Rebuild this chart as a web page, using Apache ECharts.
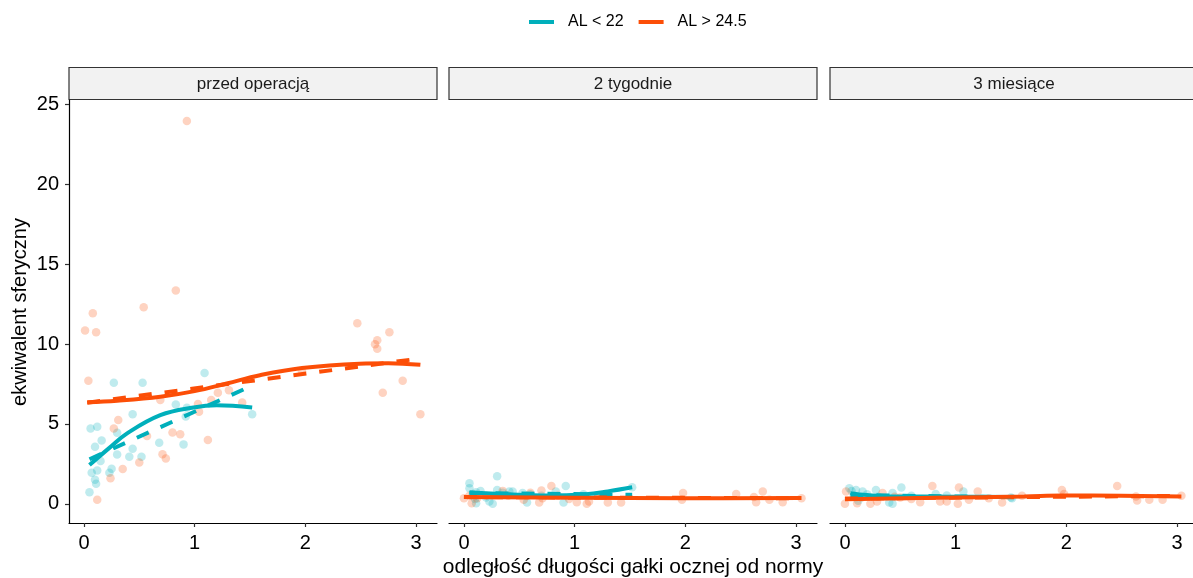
<!DOCTYPE html>
<html>
<head>
<meta charset="utf-8">
<script src="https://cdn.jsdelivr.net/npm/echarts@6/dist/echarts.min.js"></script>
<style>
  html, body { margin: 0; padding: 0; background: #fff; }
  #chart { width: 1193px; height: 578px; }
</style>
</head>
<body>
<div id="chart"></div>
<script>
// panels (facets) and groups
const panels = ['przed operacją', '2 tygodnie', '3 miesiące']
const groups = ['AL < 22', 'AL > 24.5']
const colors = ['#00AFBB', '#FC4E07']
const xTicks = [0, 1, 2, 3]
const yTicks = [0, 5, 10, 15, 20, 25]

// przed operacją
const preShortX = [0.27, 0.53, 1.09, 0.83, 0.93, 0.92, 1.52, 0.44, 0.06, 0.12, 0.10, 0.16, 0.30, 0.44, 0.30, 0.41, 0.52, 0.68, 0.90, 0.15, 0.07, 0.12, 0.10, 0.11, 0.23, 0.25, 0.05]
const preShortY = [7.57, 7.57, 8.19, 6.22, 6.01, 5.47, 5.60, 5.60, 4.72, 4.82, 3.57, 3.97, 4.45, 3.45, 3.08, 2.95, 2.95, 3.82, 3.72, 2.68, 1.95, 2.08, 1.50, 1.25, 1.95, 2.20, 0.73]
const preLongX = [0.01, 0.08, 0.11, 0.54, 0.04, 2.47, 2.63, 2.65, 2.65, 2.76, 2.88, 2.70, 3.04, 1.97, 0.69, 1.21, 1.31, 1.15, 1.43, 1.03, 1.04, 0.31, 0.27, 0.57, 0.80, 0.87, 1.12, 0.71, 0.74, 0.50, 0.35, 0.24, 0.12, 0.93, 0.83]
const preLongY = [10.85, 11.93, 10.73, 12.30, 7.70, 11.30, 9.98, 10.23, 9.71, 10.73, 7.70, 6.95, 5.60, 8.30, 6.49, 6.95, 7.10, 6.49, 6.34, 6.24, 5.76, 5.24, 4.72, 4.24, 4.47, 4.35, 3.99, 3.10, 2.83, 2.58, 2.18, 1.60, 0.25, 23.95, 13.35]

// 2 tygodnie
const w2ShortX = [0.05, 0.05, 0.30, 0.11, 0.30, 0.26, 0.11, 0.23, 0.41, 0.44, 0.53, 0.57, 0.83, 0.92, 0.90, 1.08, 1.52, 0.08, 0.15, 0.20, 0.35, 0.60, 0.70, 1.20, 0.10]
const w2ShortY = [1.29, 0.98, 1.73, 0.73, 0.87, 0.00, 0.04, 0.15, 0.77, 0.77, 0.67, 0.08, 0.77, 1.12, 0.08, 0.60, 1.04, 0.60, 0.80, 0.40, 0.70, 0.60, 0.50, 0.50, 0.30]
const w2LongX = [0.00, 0.07, 0.12, 0.35, 0.54, 0.70, 0.68, 0.79, 1.02, 1.11, 1.13, 1.30, 1.42, 0.71, 1.98, 1.97, 2.46, 2.62, 2.64, 2.70, 2.76, 2.88, 3.05, 0.05, 0.20, 0.40, 0.60, 0.85, 0.95, 1.25]
const w2LongY = [0.35, 0.04, 0.35, 0.81, 0.25, 0.83, 0.08, 1.12, 0.10, 0.00, 0.15, 0.08, 0.08, 0.35, 0.67, 0.25, 0.62, 0.42, 0.10, 0.77, 0.25, 0.10, 0.35, 0.50, 0.50, 0.50, 0.70, 0.50, 0.30, 0.50]

// 3 miesiące
const m3ShortX = [0.04, 0.06, 0.10, 0.16, 0.28, 0.51, 0.43, 0.40, 0.43, 0.82, 0.92, 1.07, 1.51, 0.12, 0.08, 0.20, 0.30, 0.60, 1.50]
const m3ShortY = [0.98, 0.80, 0.87, 0.77, 0.87, 1.02, 0.67, 0.08, 0.00, 0.62, 0.52, 0.77, 0.35, 0.20, 0.50, 0.60, 0.45, 0.50, 0.40]
const m3LongX = [0.00, 0.01, 0.11, 0.23, 0.29, 0.34, 0.50, 0.68, 0.79, 0.86, 0.92, 1.03, 1.02, 1.12, 1.20, 1.30, 1.42, 1.96, 1.98, 2.46, 2.63, 2.64, 2.75, 2.87, 3.04, 0.15, 0.45, 0.60, 1.60]
const m3LongY = [0.00, 0.77, 0.04, 0.00, 0.15, 0.67, 0.40, 0.10, 1.12, 0.15, 0.15, 1.02, 0.00, 0.25, 0.77, 0.35, 0.08, 0.87, 0.62, 1.12, 0.46, 0.21, 0.25, 0.25, 0.50, 0.40, 0.45, 0.30, 0.50]

// smoothed (loess) curves
const preShortLoess = [[0.05, 2.43], [0.23, 3.5], [0.39, 4.41], [0.69, 5.55], [0.99, 6.03], [1.2, 6.17], [1.52, 6.03]]
const preLongLoess = [[0.03, 6.35], [0.3, 6.45], [0.69, 6.7], [1.0, 7.05], [1.29, 7.53], [1.59, 8.05], [1.97, 8.5], [2.49, 8.77], [2.75, 8.8], [3.04, 8.7]]
const w2ShortLoess = [[0.05, 0.73], [0.4, 0.6], [0.75, 0.52], [1.1, 0.6], [1.3, 0.78], [1.52, 1.04]]
const w2LongLoess = [[0.0, 0.42], [1.0, 0.38], [2.0, 0.35], [3.05, 0.36]]
const m3ShortLoess = [[0.05, 0.67], [0.2, 0.55], [0.41, 0.46], [1.0, 0.45], [1.5, 0.43]]
const m3LongLoess = [[0.0, 0.29], [0.8, 0.38], [1.62, 0.46], [1.96, 0.52], [2.5, 0.5], [3.04, 0.46]]

// linear fits (end points)
const preShortLm = [[0.05, 2.79], [1.52, 7.4]]
const preLongLm = [[0.03, 6.33], [3.04, 9.1]]
const w2ShortLm = [[0.05, 0.68], [1.52, 0.57]]
const w2LongLm = [[0.0, 0.42], [3.05, 0.35]]
const m3ShortLm = [[0.05, 0.55], [1.5, 0.42]]
const m3LongLm = [[0.0, 0.33], [3.04, 0.5]]

const points = [
    [[preShortX, preShortY], [preLongX, preLongY]],
    [[w2ShortX, w2ShortY], [w2LongX, w2LongY]],
    [[m3ShortX, m3ShortY], [m3LongX, m3LongY]]
]
const loess = [[preShortLoess, preLongLoess], [w2ShortLoess, w2LongLoess], [m3ShortLoess, m3LongLoess]]
const lm = [[preShortLm, preLongLm], [w2ShortLm, w2LongLm], [m3ShortLm, m3LongLm]]

const font = '"Liberation Sans", Arial, sans-serif'
const panelLeft = [69, 449, 830]
// last panel is cut off by the right edge of the picture
const panelW = [368, 368, 363]
const xMin = -0.135
const xPerPx = 3.325 / 368
const panelTop = 100
const panelH = 423

let zip = (xs, ys) => xs.map((x, i) => [x, ys[i]])

let grids = [], xAxes = [], yAxes = [], series = [], graphics = []

panels.forEach((name, p) => {
    grids.push({ left: panelLeft[p], top: panelTop, width: panelW[p], height: panelH })
    xAxes.push({
        type: 'value', gridIndex: p, min: xMin, max: xMin + panelW[p] * xPerPx,
        axisLine: { show: true, onZero: false, lineStyle: { color: '#000', width: 1.2 } },
        axisTick: { show: true, length: 4, customValues: xTicks, lineStyle: { color: '#333', width: 1.2 } },
        axisLabel: { customValues: xTicks, color: '#000', fontSize: 20, fontFamily: font, margin: 10 },
        splitLine: { show: false }
    })
    yAxes.push({
        type: 'value', gridIndex: p, min: -1.2, max: 25.27,
        show: p === 0,
        axisLine: { show: true, onZero: false, lineStyle: { color: '#000', width: 1.2 } },
        axisTick: { show: true, length: 4, customValues: yTicks, lineStyle: { color: '#333', width: 1.2 } },
        axisLabel: { customValues: yTicks, color: '#000', fontSize: 20, fontFamily: font, margin: 10 },
        splitLine: { show: false }
    })
    // strip header
    graphics.push({
        type: 'rect', shape: { x: panelLeft[p], y: 67.5, width: p === 2 ? 380 : panelW[p], height: 32 },
        style: { fill: '#F2F2F2', stroke: '#333', lineWidth: 1.2 }
    })
    graphics.push({
        type: 'text', x: panelLeft[p] + 184, y: 84,
        style: { text: name, fill: '#1A1A1A', font: '17px ' + font, textAlign: 'center', textVerticalAlign: 'middle' }
    })

    groups.forEach((g, k) => {
        series.push({
            name: g, type: 'scatter', xAxisIndex: p, yAxisIndex: p,
            data: zip(points[p][k][0], points[p][k][1]),
            symbolSize: 8.5,
            itemStyle: { color: colors[k], opacity: 0.25 },
            silent: true
        })
    })
    groups.forEach((g, k) => {
        series.push({
            name: g, type: 'line', xAxisIndex: p, yAxisIndex: p,
            data: lm[p][k], showSymbol: false,
            lineStyle: { color: colors[k], width: 4, type: [13, 13], cap: 'butt' },
            z: 3
        })
        series.push({
            name: g, type: 'line', xAxisIndex: p, yAxisIndex: p,
            data: loess[p][k], showSymbol: false, smooth: 0.4,
            lineStyle: { color: colors[k], width: 4 },
            z: 4
        })
    })
})

let chart = echarts.init(document.getElementById('chart'))
chart.setOption({
    animation: false,
    backgroundColor: '#fff',
    legend: {
        top: 9, left: 524,
        itemWidth: 25, itemHeight: 4, itemGap: 15,
        textStyle: { fontSize: 16, color: '#000', fontFamily: font, padding: [0, 0, 0, 9] },
        data: groups.map((g, k) => ({ name: g, icon: 'rect', itemStyle: { color: colors[k], opacity: 1 } }))
    },
    grid: grids,
    xAxis: xAxes,
    yAxis: yAxes,
    series: series,
    graphic: graphics.concat([
        {
            type: 'text', x: 633, y: 567,
            style: { text: 'odległość długości gałki ocznej od normy', fill: '#000', font: '21px ' + font, textAlign: 'center', textVerticalAlign: 'middle' }
        },
        {
            type: 'text', x: 20, y: 312, rotation: Math.PI / 2,
            style: { text: 'ekwiwalent sferyczny', fill: '#000', font: '20px ' + font, textAlign: 'center', textVerticalAlign: 'middle' }
        }
    ])
})
</script>
</body>
</html>
